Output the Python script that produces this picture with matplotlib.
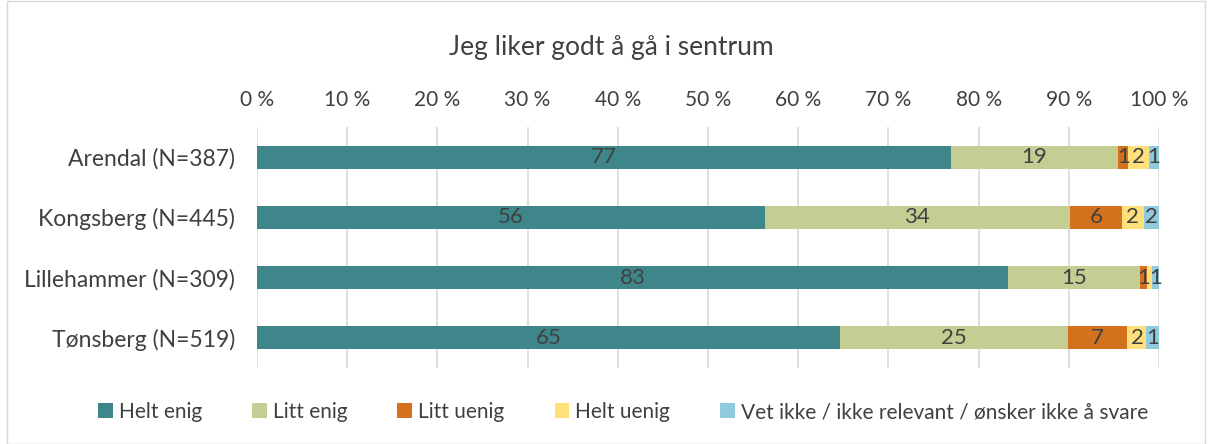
import numpy as np
import matplotlib.pyplot as plt
from matplotlib.patches import Rectangle

plt.rcParams['font.family'] = ['Lato', 'DejaVu Sans']

places = ["Arendal (N=387)", "Kongsberg (N=445)", "Lillehammer (N=309)", "Tønsberg (N=519)"]
categories = ["Helt enig", "Litt enig", "Litt uenig", "Helt uenig",
              "Vet ikke / ikke relevant / ønsker ikke å svare"]
helt_enig = [76.9, 56.3, 83.3, 64.6]
litt_enig = [18.6, 33.8, 14.6, 25.3]
litt_uenig = [1.1, 5.8, 0.8, 6.6]
helt_uenig = [2.3, 2.4, 0.5, 2.1]
vet_ikke = [1.1, 1.7, 0.8, 1.4]
series = [helt_enig, litt_enig, litt_uenig, helt_uenig, vet_ikke]
colors = ["#3F868A", "#C6CD93", "#D4711C", "#FFE07A", "#8FCBDC"]
ticks = np.arange(0, 101, 10)

fig = plt.figure(figsize=(12.1, 4.44), dpi=100)
ax = fig.add_axes([0.2124, 0.171, 0.7455, 0.543])

y = np.arange(len(places))
left = np.zeros(len(places))
for vals, col, name in zip(series, colors, categories):
    vals = np.array(vals)
    ax.barh(y, vals, left=left, height=0.38, color=col, label=name, zorder=3)
    for yi, v, l in zip(y, vals, left):
        if v >= 0.7:
            ax.text(l + v / 2, yi, f"{v:.0f}", ha='center', va='center',
                    fontsize=16, color='#404040', zorder=4)
    left += vals

ax.set_xlim(0, 100)
ax.set_ylim(len(places) - 0.5, -0.5)
ax.set_yticks(y)
ax.set_yticklabels(places, fontsize=16.5, color='#404040')
ax.set_xticks(ticks)
ax.set_xticklabels([f"{t} %" for t in ticks], fontsize=15, color='#404040')
ax.xaxis.tick_top()
ax.tick_params(axis='both', length=0)
ax.tick_params(axis='x', pad=12)
ax.tick_params(axis='y', pad=16)
ax.grid(axis='x', color='#D9D9D9', linewidth=1.2, zorder=0)
for s in ax.spines.values():
    s.set_visible(False)

fig.text(0.505, 0.893, "Jeg liker godt å gå i sentrum", ha='center', va='center',
         fontsize=19, color='#404040')

fig.legend(loc='center', bbox_to_anchor=(0.515, 0.072), ncol=5, frameon=False,
           fontsize=15, handlelength=0.7, handleheight=0.7, handletextpad=0.3,
           columnspacing=2.4, labelcolor='#404040')

fig.patches.append(Rectangle((0.006, 0.0), 0.99, 0.998, transform=fig.transFigure,
                             fill=False, edgecolor='#D9D9D9', linewidth=1))

fig.savefig("out.png", dpi=100)
